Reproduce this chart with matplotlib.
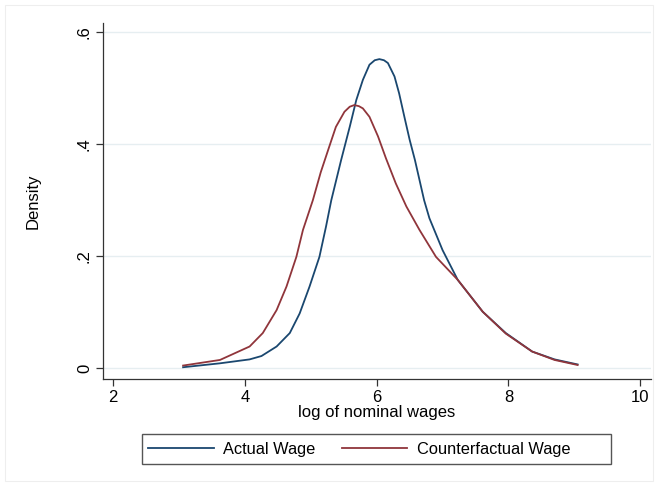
import numpy as np
import matplotlib.pyplot as plt
from matplotlib.patches import Rectangle

# ----- data -----
actual_x = [3.06, 3.62, 4.07, 4.25, 4.48, 4.68, 4.83, 4.98, 5.13, 5.23, 5.31, 5.46, 5.59, 5.69,
            5.79, 5.89, 5.97, 6.04, 6.11, 6.17, 6.27, 6.34, 6.42, 6.50, 6.58, 6.65, 6.72,
            6.80, 7.00, 7.23, 7.61, 7.96, 8.36, 8.70, 9.05]
actual_y = [0.002, 0.009, 0.016, 0.022, 0.039, 0.063, 0.098, 0.146, 0.199, 0.253, 0.300, 0.372, 0.431,
            0.479, 0.515, 0.542, 0.550, 0.552, 0.550, 0.545, 0.521, 0.491, 0.449, 0.408, 0.372, 0.336,
            0.300, 0.268, 0.211, 0.158, 0.101, 0.063, 0.030, 0.016, 0.007]

counter_x = [3.06, 3.62, 4.07, 4.27, 4.48, 4.63, 4.78, 4.88, 5.03, 5.15, 5.28, 5.38, 5.51, 5.59,
             5.66, 5.73, 5.79, 5.89, 6.02, 6.14, 6.29, 6.45, 6.65, 6.90, 7.23, 7.61, 7.96, 8.36,
             8.70, 9.05]
counter_y = [0.005, 0.015, 0.039, 0.063, 0.104, 0.146, 0.199, 0.247, 0.300, 0.350, 0.396, 0.431, 0.458,
             0.467, 0.470, 0.468, 0.464, 0.449, 0.414, 0.375, 0.330, 0.289, 0.247, 0.199, 0.158, 0.101,
             0.062, 0.030, 0.015, 0.006]

x_ticks = [2, 4, 6, 8, 10]
y_ticks = [0, 0.2, 0.4, 0.6]
y_tick_labels = ["0", ".2", ".4", ".6"]

NAVY = "#1a476f"
MAROON = "#90353b"

plt.rcParams["font.family"] = ["Liberation Sans", "DejaVu Sans"]

W, H = 658, 486
fig = plt.figure(figsize=(W / 100, H / 100), dpi=100)
fig.patch.set_facecolor("white")

# faint outer frame (graph region)
fig.add_artist(Rectangle((5 / W, 5 / H), (W - 10) / W, (H - 10) / H, transform=fig.transFigure,
                         fill=False, edgecolor="#eeeeee", linewidth=0.8))

left, right, top, bottom = 103, 650.7, 22.7, 379
ax = fig.add_axes([left / W, 1 - bottom / H, (right - left) / W, (bottom - top) / H])

ax.plot(actual_x, actual_y, color=NAVY, linewidth=1.3, label="Actual Wage")
ax.plot(counter_x, counter_y, color=MAROON, linewidth=1.3, label="Counterfactual Wage")

ax.set_xlim(1.844, 10.16)
ax.set_ylim(-0.019, 0.617)

ax.set_xticks(x_ticks)
ax.set_yticks(y_ticks)
ax.set_yticklabels(y_tick_labels, rotation=90, va="center")
ax.tick_params(axis="both", direction="out", length=5, width=0.9, color="#333333",
               labelsize=12, pad=3)
ax.grid(axis="y", color="#e6eef1", linewidth=1.0)
ax.set_axisbelow(True)

for s in ["top", "right"]:
    ax.spines[s].set_visible(False)
for s in ["left", "bottom"]:
    ax.spines[s].set_color("#333333")
    ax.spines[s].set_linewidth(0.9)

ax.set_xlabel("log of nominal wages", fontsize=12, labelpad=0)
ax.set_ylabel("Density", fontsize=12, labelpad=26)

# legend below the plot, with its own frame
fig.add_artist(Rectangle((142 / W, 1 - 464 / H), (611 - 142) / W, 30 / H, transform=fig.transFigure,
                         fill=False, edgecolor="#555555", linewidth=1.0))
fig.legend(loc="center left", bbox_to_anchor=(148 / W, 1 - 449 / H), ncol=2, frameon=False,
           fontsize=11.8, handlelength=4.0, handletextpad=0.6, columnspacing=1.6,
           borderpad=0.0, borderaxespad=0.0)

fig.savefig("out.png", dpi=100, facecolor="white")
